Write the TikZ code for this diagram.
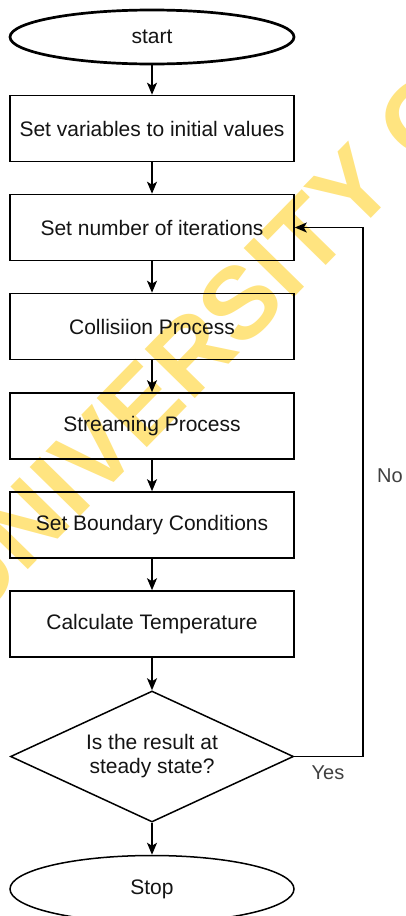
\documentclass[tikz,border=0pt]{standalone}
\usepackage{fontspec}
\setmainfont{Liberation Sans}
\usetikzlibrary{shapes.geometric,arrows.meta}
\definecolor{wmark}{RGB}{255,228,128}
\definecolor{ink}{RGB}{20,20,20}
\begin{document}
\begin{tikzpicture}[x=1pt,y=-1pt,
  txt/.style={font=\fontsize{21}{24}\selectfont, text=ink},
  stepbox/.style={txt, draw=black, line width=1.6pt, minimum width=284pt,
    minimum height=66pt, inner sep=0pt},
  term/.style={txt, draw=black, ellipse, minimum width=284pt, inner sep=0pt},
  decision/.style={txt, draw=black, line width=1.5pt, diamond, aspect=2.16,
    minimum width=283pt, minimum height=131pt, inner sep=0pt, align=center},
  arr/.style={draw=black, line width=1.5pt,
    -{Stealth[length=12pt,width=10pt,inset=3pt]}},
  lbl/.style={font=\fontsize{20}{24}\selectfont, text=black!75}]

% canvas
\fill[white] (0,0) rectangle (405,916);
\useasboundingbox (0,0) rectangle (405,916);

% watermark behind the chart
\begin{scope}
  \clip (0,0) rectangle (405,916);
  \node[rotate=45.6, text=wmark, font=\fontsize{102}{110}\selectfont\bfseries,
    inner sep=0pt] (wm) at (199,345) {UNIVERSITY O};
\end{scope}

% flow nodes
\node[term, line width=2.7pt, minimum height=54pt] (start) at (152,37) {start};
\node[stepbox] (init)  at (152,128.5) {Set variables to initial values};
\node[stepbox] (iter)  at (152,227.5) {Set number of iterations};
\node[stepbox] (coll)  at (152,326.5) {Collisiion Process};
\node[stepbox] (strm)  at (152,426) {Streaming Process};
\node[stepbox] (bound) at (152,525) {Set Boundary Conditions};
\node[stepbox] (temp)  at (152,624) {Calculate Temperature};
\node[decision] (dec)  at (152,756.5) {Is the result at\\steady state?};
\node[term, line width=1.5pt, minimum height=67pt] (stop) at (152,889) {Stop};

% connectors
\draw[arr] (start) -- (init);
\draw[arr] (init) -- (iter);
\draw[arr] (iter) -- (coll);
\draw[arr] (coll) -- (strm);
\draw[arr] (strm) -- (bound);
\draw[arr] (bound) -- (temp);
\draw[arr] (temp) -- (dec);
\draw[arr] (dec) -- (stop);

% loop back to the iteration step
\coordinate (loopx) at (363,0);
\draw[arr] (dec.east) -- (dec.east -| loopx) |- (iter.east);

\node[lbl] (no)  at (390,476) {No};
\node[lbl] (yes) at (328,773) {Yes};
\end{tikzpicture}
\end{document}
